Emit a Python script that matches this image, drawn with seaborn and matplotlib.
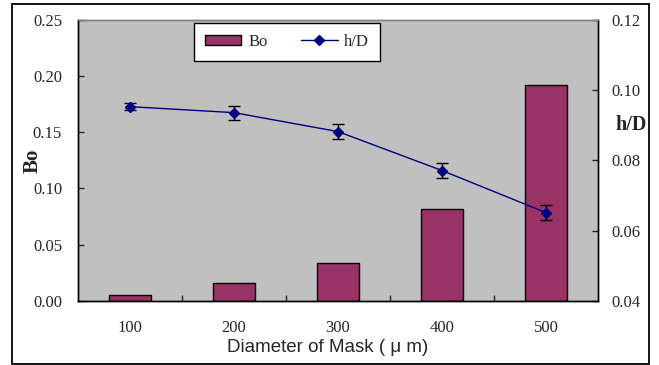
import matplotlib
matplotlib.use("Agg")
import matplotlib.pyplot as plt
from matplotlib.patches import Patch, Rectangle
from matplotlib.lines import Line2D
from matplotlib.ticker import FixedLocator
import seaborn as sns
import pandas as pd

# data
diameters = ["100", "200", "300", "400", "500"]
bo = [0.005, 0.0155, 0.0333, 0.0814, 0.192]
hd = [0.0953, 0.0936, 0.0882, 0.0771, 0.0651]
hd_err = [0.0010, 0.0020, 0.0021, 0.0022, 0.0021]

df = pd.DataFrame({"Diameter": diameters, "Bo": bo, "hD": hd, "err": hd_err})

sns.set_style("ticks")
plt.rcParams["font.family"] = ["Liberation Serif", "DejaVu Serif"]

bar_color = "#993366"
line_color = "#000080"

fig = plt.figure(figsize=(6.59, 3.65), dpi=100)
ax = fig.add_axes([78 / 659, 1 - 300.7 / 365, 520 / 659, 280.7 / 365])
ax.set_facecolor("#C0C0C0")

sns.barplot(data=df, x="Diameter", y="Bo", ax=ax, color=bar_color,
            saturation=1, edgecolor="black", linewidth=1.0, width=0.41)
ax.set_xlim(-0.5, 4.5)
ax.set_ylim(0, 0.25)
ax.set_yticks([0, 0.05, 0.10, 0.15, 0.20, 0.25])
ax.set_yticklabels(["0.00", "0.05", "0.10", "0.15", "0.20", "0.25"])
ax.tick_params(axis="y", direction="in", length=4, width=1, pad=11.5, labelsize=12)
ax.tick_params(axis="x", which="major", length=0, pad=14, labelsize=12)
ax.xaxis.set_minor_locator(FixedLocator([0.5, 1.5, 2.5, 3.5]))
ax.tick_params(axis="x", which="minor", direction="in", length=4, width=1)
ax.set_xlabel("Diameter of Mask ( \u03bc m)", family="Liberation Sans",
              fontsize=13.5, labelpad=0)
ax.xaxis.set_label_coords(0.481, -0.166)
ax.xaxis.label.set_va("center")
ax.set_ylabel("Bo", fontsize=15, fontweight="bold")
ax.yaxis.set_label_coords(-0.087, 0.5)
ax.yaxis.label.set_va("center")

ax2 = ax.twinx()
ax2.errorbar(range(len(diameters)), df["hD"], yerr=df["err"], color=line_color,
             lw=1.0, marker="D", markersize=5.5, mfc=line_color, mec=line_color,
             ecolor="black", elinewidth=1.0, capsize=4, capthick=1.0)
ax2.set_ylim(0.04, 0.12)
ax2.set_yticks([0.04, 0.06, 0.08, 0.10, 0.12])
ax2.set_yticklabels(["0.04", "0.06", "0.08", "0.10", "0.12"])
ax2.tick_params(axis="y", direction="in", length=4, width=1, pad=9.5, labelsize=12)
ax2.set_ylabel("h/D", rotation=0, fontsize=14.5, fontweight="bold",
               ha="center", va="center")
ax2.yaxis.set_label_coords(1.063, 0.626)

for a in (ax, ax2):
    for s in ("left", "right", "bottom"):
        a.spines[s].set_color("black")
        a.spines[s].set_linewidth(1.0)
    a.spines["top"].set_visible(True)
    a.spines["top"].set_color("#808080")
    a.spines["top"].set_linewidth(1.0)

handles = [
    Patch(facecolor=bar_color, edgecolor="black", linewidth=1.0),
    Line2D([], [], color=line_color, lw=1.0, marker="D", markersize=5.5),
]
leg = ax2.legend(handles, ["Bo", "h/D"], ncol=2, loc="upper left",
                 bbox_to_anchor=(0.223, 0.989), borderaxespad=0,
                 frameon=True, fancybox=False, fontsize=12,
                 handlelength=2.2, handleheight=0.55, handletextpad=0.4,
                 columnspacing=2.0, borderpad=0.65)
leg.get_frame().set_edgecolor("black")
leg.get_frame().set_linewidth(1.0)
leg.get_frame().set_facecolor("white")
leg.get_frame().set_alpha(1)

# outer chart border
fig.patches.append(Rectangle((11.5 / 659, 1.5 / 365), 637.5 / 659, 359.5 / 365,
                             transform=fig.transFigure, fill=False,
                             edgecolor="black", linewidth=1.3))

fig.savefig("out.png", dpi=100)
